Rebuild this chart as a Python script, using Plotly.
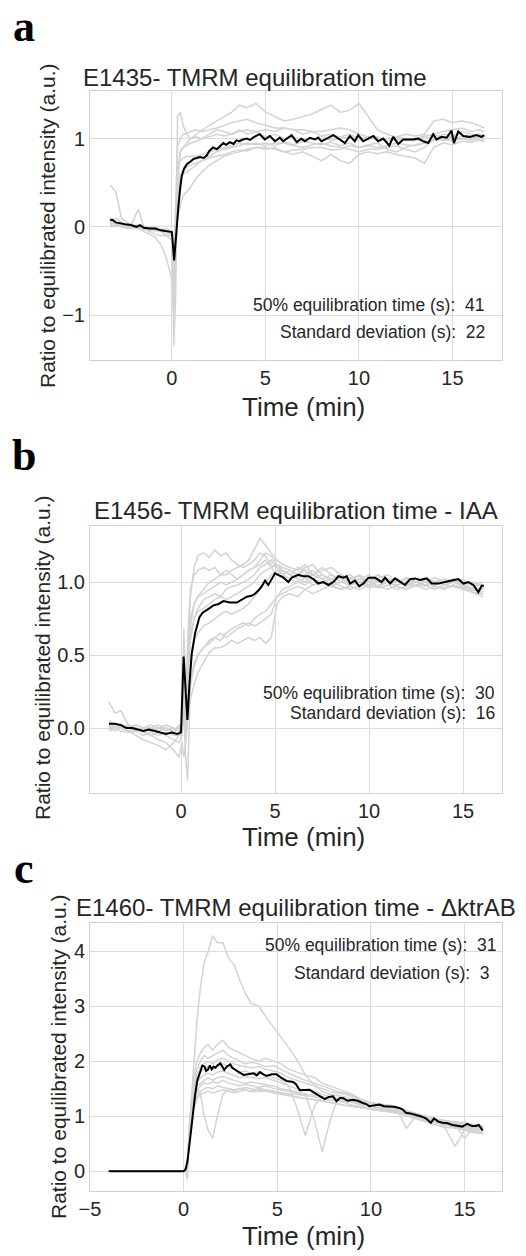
import plotly.graph_objects as go

W, H = 526, 1256
FONT = "Liberation Sans, Arial, sans-serif"
SERIF = "Liberation Serif, Times New Roman, serif"
TXT = "#262626"
GRAY = "#d3d3d3"


def px(x):
    return x / W


def py(y):
    return 1 - y / H


# ---------------- Panel a : E1435 ----------------
ta_grid = [-3.3, -3.0, -2.7, -2.4, -2.1, -1.8, -1.5, -1.2, -0.9, -0.6, -0.3,
           0.0, 0.1, 0.2, 0.3, 0.45, 0.6, 0.8, 1.0,
           1.3, 1.6, 2.0, 2.4, 2.8, 3.2, 3.6, 4.0, 4.5,
           5.0, 5.5, 6.0, 6.5, 7.0, 7.5, 8.0, 8.5, 9.0, 9.5, 10.0, 10.5, 11.0,
           11.5, 12.0, 12.5, 13.0, 13.5, 14.0, 14.5, 15.0, 15.5, 16.0, 16.4, 16.7]

a_cells = [
    [0.47, 0.4, 0.1, 0.05, 0.02, 0.0, -0.02, -0.05, -0.08, -0.1, -0.1,
     -0.1, -0.5, -0.2, 0.5, 0.85, 0.9, 0.95, 1.0,
     1.05, 1.1, 1.15, 1.2, 1.25, 1.3, 1.38, 1.35, 1.4,
     1.3, 1.25, 1.2, 1.22, 1.25, 1.28, 1.33, 1.38, 1.3, 1.32, 1.4, 1.25, 1.1,
     1.05, 1.02, 1.05, 1.03, 1.05, 1.2, 1.22, 1.18, 1.2, 1.18, 1.15, 1.12],
    [0.1, 0.05, 0.03, 0.0, 0.02, 0.0, -0.02, 0.0, -0.03, -0.05, -0.05,
     -0.08, -1.35, -0.8, 1.25, 1.3, 1.15, 1.05, 1.0,
     1.02, 1.0, 1.05, 1.1, 1.08, 1.05, 1.1, 1.05, 1.08,
     1.02, 1.05, 1.0, 1.02, 0.98, 1.0, 1.03, 0.98, 1.0, 1.02, 0.98, 1.0, 1.02,
     0.97, 1.0, 0.98, 1.0, 1.02, 1.05, 1.0, 1.03, 1.0, 1.02, 1.05, 1.03],
    [0.05, 0.03, 0.02, 0.0, 0.0, -0.02, 0.0, -0.03, -0.02, -0.04, -0.05,
     -0.05, -0.7, -0.3, 0.1, 0.25, 0.35, 0.4, 0.45,
     0.55, 0.62, 0.7, 0.75, 0.8, 0.83, 0.85, 0.88, 0.9,
     0.88, 0.9, 0.85, 0.82, 0.85, 0.8, 0.75, 0.82, 0.75, 0.72, 0.82, 0.85, 0.83,
     0.85, 0.82, 0.8, 0.78, 0.72, 0.9, 0.95, 0.93, 0.97, 0.96, 0.98, 0.97],
    [0.1, 0.05, 0.0, 0.02, 0.0, -0.02, -0.05, -0.08, -0.12, -0.2, -0.35,
     -0.6, -1.0, -0.5, 0.3, 0.55, 0.6, 0.62, 0.65,
     0.7, 0.75, 0.8, 0.85, 0.88, 0.9, 0.92, 0.95, 0.93,
     0.95, 0.92, 0.96, 0.93, 0.97, 0.95, 0.93, 0.96, 0.92, 0.95, 0.9, 0.93, 0.95,
     0.88, 0.85, 0.9, 0.93, 0.95, 0.98, 1.0, 0.97, 1.0, 0.98, 1.0, 0.98],
    [0.0, 0.1, 0.05, 0.0, 0.05, 0.2, 0.0, -0.05, -0.02, -0.05, -0.1,
     -0.15, -0.8, 0.0, 0.6, 0.85, 0.9, 0.92, 0.95,
     0.97, 1.0, 1.02, 1.05, 1.03, 1.05, 1.08, 1.1, 1.08,
     1.1, 1.08, 1.12, 1.1, 1.05, 1.08, 1.03, 1.05, 1.02, 1.05, 1.0, 1.02, 0.98,
     1.0, 1.02, 1.0, 0.98, 1.0, 1.02, 1.05, 1.03, 1.08, 1.05, 1.03, 1.02],
    [0.02, 0.0, 0.03, 0.0, -0.02, 0.0, -0.03, -0.02, -0.05, -0.03, -0.05,
     -0.08, -0.6, 0.2, 0.7, 0.75, 0.78, 0.8, 0.8,
     0.8, 0.82, 0.85, 0.88, 0.9, 0.92, 0.95, 0.93, 0.95,
     0.92, 0.95, 0.95, 0.92, 0.9, 0.93, 0.95, 0.92, 0.9, 0.88, 0.85, 0.88, 0.88,
     0.9, 0.92, 0.88, 0.85, 0.9, 1.0, 0.98, 1.0, 1.02, 1.02, 1.0, 1.0],
    [0.0, 0.02, 0.0, -0.02, 0.0, 0.02, 0.0, -0.02, 0.0, -0.03, -0.02,
     -0.05, -0.4, 0.4, 0.9, 1.0, 1.05, 1.06, 1.08,
     1.1, 1.08, 1.1, 1.12, 1.15, 1.18, 1.2, 1.22, 1.18,
     1.15, 1.12, 1.12, 1.1, 1.1, 1.08, 1.08, 1.1, 1.12, 1.1, 1.05, 1.02, 1.0,
     0.98, 0.98, 1.0, 1.0, 1.03, 1.05, 1.08, 1.1, 1.12, 1.08, 1.1, 1.08],
    [0.05, 0.03, 0.0, 0.02, 0.0, -0.02, 0.0, -0.05, -0.03, -0.05, -0.08,
     -0.1, -0.9, -0.2, 0.4, 0.6, 0.65, 0.68, 0.7,
     0.72, 0.75, 0.78, 0.8, 0.82, 0.85, 0.87, 0.86, 0.9,
     0.9, 0.88, 0.85, 0.87, 0.88, 0.9, 0.9, 0.87, 0.88, 0.92, 0.9, 0.92, 0.9,
     0.92, 0.95, 0.93, 0.92, 0.95, 0.98, 1.0, 1.02, 1.0, 1.0, 1.02, 1.0],
]

ta_mean = [-3.3, -3.2, -3.0, -2.8, -2.5, -2.2, -1.9, -1.7, -1.5, -1.2,
           -0.9, -0.6, -0.3, 0.0, 0.12, 0.25, 0.35, 0.45, 0.53, 0.65,
           0.8, 1.0, 1.15, 1.33, 1.5, 1.7, 1.87, 2.0, 2.2, 2.4,
           2.6, 2.75, 2.9, 3.1, 3.3, 3.45, 3.6, 3.8, 4.0, 4.17,
           4.4, 4.7, 4.97, 5.24, 5.51, 5.77, 5.95, 6.13, 6.4, 6.67,
           6.93, 7.11, 7.38, 7.65, 7.82, 8.0, 8.27, 8.63, 8.98, 9.25,
           9.52, 9.78, 9.96, 10.23, 10.5, 10.77, 11.03, 11.3, 11.62, 11.83,
           12.1, 12.37, 12.64, 12.9, 13.17, 13.44, 13.71, 13.97, 14.15, 14.42,
           14.69, 14.95, 15.08, 15.31, 15.58, 15.93, 16.29, 16.56, 16.7]
va_mean = [0.07, 0.08, 0.05, 0.04, 0.03, 0.02, 0.0, 0.02, -0.01, -0.02,
           -0.02, -0.04, -0.05, -0.06, -0.38, 0.0, 0.24, 0.45, 0.58, 0.66,
           0.71, 0.74, 0.77, 0.78, 0.79, 0.78, 0.81, 0.86, 0.9, 0.88,
           0.92, 0.95, 0.93, 0.96, 0.94, 0.98, 0.97, 0.99, 1.0, 0.985,
           1.02, 1.05, 0.99, 1.03, 0.97, 1.01, 0.97, 1.0, 1.04, 0.96,
           1.0, 0.97, 1.01, 0.99, 1.01, 0.97, 1.0, 1.04, 0.99, 0.95,
           1.03, 0.97, 1.04, 0.97, 1.0, 1.03, 0.97, 1.0, 0.92, 1.02,
           0.94, 0.99, 0.99, 0.99, 1.0, 0.97, 0.95, 1.05, 0.99, 1.02,
           1.01, 1.09, 0.95, 1.08, 1.03, 1.02, 1.04, 1.02, 1.04]

# ---------------- Panel b : E1456 IAA ----------------
tb_grid = [-3.84, -3.5, -3.2, -2.8, -2.4, -2.0, -1.6, -1.2, -0.8, -0.4, -0.1,
           0.05, 0.15, 0.25, 0.35, 0.5, 0.7, 0.9,
           1.2, 1.5, 1.8, 2.1, 2.4, 2.7, 3.0, 3.3, 3.6, 3.9, 4.2, 4.5, 4.8, 5.1, 5.4, 5.8,
           6.2, 6.6, 7.0, 7.5, 8.0, 8.5, 9.0, 9.5, 10.0, 10.5, 11.0, 11.5, 12.0,
           12.5, 13.0, 13.5, 14.0, 14.5, 15.0, 15.5, 16.07]

b_cells = [
    [0.02, 0.03, 0.0, 0.02, 0.0, -0.02, 0.0, 0.02, 0.0, -0.02, 0.0,
     0.0, 0.3, 0.1, 0.5, 0.9, 1.1, 1.18,
     1.2, 1.17, 1.22, 1.18, 1.2, 1.15, 1.12, 1.1, 1.12, 1.15, 1.2, 1.18, 1.12, 1.1, 1.08, 1.05,
     1.1, 1.08, 1.05, 1.1, 1.05, 1.02, 1.0, 0.98, 1.02, 1.0, 1.0, 0.98, 1.0,
     1.02, 1.0, 0.98, 1.0, 1.02, 0.98, 1.0, 0.97],
    [0.18, 0.1, 0.12, 0.02, 0.0, -0.02, -0.05, -0.08, -0.1, -0.15, -0.2,
     -0.1, -0.2, -0.1, 0.05, 0.2, 0.3, 0.38,
     0.45, 0.52, 0.55, 0.55, 0.57, 0.6, 0.58, 0.6, 0.62, 0.6, 0.62, 0.58, 0.62, 0.85, 0.9, 0.92,
     0.9, 0.95, 0.92, 0.95, 0.98, 0.95, 0.97, 0.95, 0.98, 0.96, 0.98, 0.95, 0.97,
     0.98, 0.95, 0.97, 0.96, 0.98, 0.95, 0.93, 0.92],
    [0.0, 0.02, 0.0, -0.02, 0.0, -0.03, -0.05, -0.03, -0.05, -0.08, -0.1,
     -0.05, 0.1, -0.2, -0.36, 0.3, 0.45, 0.5,
     0.55, 0.58, 0.62, 0.6, 0.65, 0.68, 0.7, 0.72, 0.7, 0.75, 0.78, 0.8, 0.85, 0.9, 0.95, 0.97,
     1.0, 0.98, 1.02, 1.0, 0.97, 1.0, 0.98, 1.02, 1.0, 0.97, 1.0, 1.02, 0.98,
     1.0, 0.97, 1.0, 0.98, 1.0, 0.97, 0.95, 0.93],
    [0.0, -0.02, 0.0, 0.02, 0.0, -0.02, 0.0, -0.02, 0.0, -0.03, 0.0,
     0.0, 0.68, 0.2, 0.3, 0.6, 0.75, 0.82,
     0.88, 0.9, 0.92, 0.9, 0.95, 0.97, 0.98, 1.0, 1.02, 1.05, 1.1, 1.12, 1.15, 1.1, 1.05, 1.08,
     1.05, 1.08, 1.02, 1.05, 1.0, 1.03, 1.05, 1.0, 1.02, 1.05, 1.0, 1.02, 0.98,
     1.0, 1.02, 1.0, 0.98, 1.0, 1.02, 0.97, 0.98],
    [0.02, 0.0, 0.03, 0.0, 0.02, 0.0, -0.02, 0.0, 0.02, 0.0, -0.02,
     0.05, 0.4, 0.05, 0.4, 0.7, 0.85, 0.9,
     0.95, 1.0, 1.02, 1.05, 1.05, 1.08, 1.1, 1.12, 1.15, 1.22, 1.3, 1.25, 1.2, 1.15, 1.12, 1.1,
     1.08, 1.12, 1.05, 1.08, 1.1, 1.05, 1.02, 1.05, 1.0, 1.03, 1.05, 1.0, 1.02,
     1.0, 1.03, 1.0, 1.02, 1.0, 0.98, 1.0, 0.98],
    [-0.02, 0.0, -0.02, -0.03, -0.02, -0.05, -0.03, -0.05, -0.03, -0.05, -0.05,
     -0.05, 0.3, 0.0, 0.2, 0.45, 0.6, 0.65,
     0.7, 0.72, 0.75, 0.78, 0.8, 0.78, 0.8, 0.82, 0.85, 0.9, 0.95, 1.0, 1.05, 1.08, 1.05, 1.02,
     1.0, 1.03, 0.98, 1.0, 1.02, 0.97, 0.95, 0.98, 1.0, 0.97, 0.95, 0.98, 1.0,
     0.97, 0.98, 0.95, 0.98, 0.97, 0.95, 0.93, 0.9],
    [0.0, 0.02, 0.0, 0.0, -0.02, 0.0, 0.02, 0.0, -0.02, 0.0, -0.02,
     0.02, 0.5, 0.1, 0.45, 0.75, 0.85, 0.9,
     0.92, 0.95, 0.97, 1.0, 0.98, 1.0, 1.02, 1.05, 1.08, 1.1, 1.12, 1.15, 1.1, 1.05, 1.08, 1.05,
     1.02, 1.0, 1.05, 1.02, 0.98, 1.0, 1.03, 1.0, 0.98, 1.0, 1.02, 1.0, 1.03,
     1.0, 0.98, 1.0, 1.02, 1.0, 0.98, 0.96, 0.95],
    [0.0, 0.0, 0.02, 0.0, -0.02, 0.0, 0.0, -0.02, 0.0, -0.02, 0.02,
     0.0, 0.45, 0.0, 0.6, 0.95, 1.05, 1.08,
     1.1, 1.08, 1.1, 1.05, 1.08, 1.05, 1.02, 1.05, 1.08, 1.1, 1.15, 1.2, 1.18, 1.12, 1.1, 1.08,
     1.05, 1.1, 1.12, 1.05, 1.02, 1.05, 1.0, 1.02, 1.05, 1.0, 1.02, 1.0, 0.98,
     1.02, 1.0, 1.03, 1.0, 1.02, 1.0, 0.98, 1.0],
    [0.05, 0.02, 0.0, -0.02, -0.05, -0.08, -0.1, -0.12, -0.15, -0.1, -0.05,
     -0.02, 0.2, 0.05, 0.15, 0.3, 0.42, 0.5,
     0.55, 0.6, 0.62, 0.65, 0.62, 0.65, 0.68, 0.7, 0.72, 0.7, 0.72, 0.75, 0.78, 0.9, 0.92, 0.95,
     0.97, 0.95, 0.98, 1.0, 0.97, 0.95, 0.98, 1.0, 0.96, 0.98, 1.0, 0.97, 0.95,
     0.98, 1.0, 0.97, 0.95, 0.98, 0.96, 0.94, 0.95],
    [0.02, 0.0, 0.02, 0.0, 0.02, 0.0, -0.02, 0.0, 0.0, -0.02, 0.0,
     0.02, 0.35, -0.05, 0.35, 0.65, 0.75, 0.8,
     0.82, 0.85, 0.88, 0.9, 0.88, 0.9, 0.92, 0.95, 0.97, 1.0, 1.05, 1.08, 1.1, 1.12, 1.08, 1.05,
     1.03, 1.05, 1.08, 1.02, 1.05, 1.0, 1.02, 1.04, 1.0, 1.02, 1.0, 0.98, 1.0,
     1.02, 1.0, 0.98, 1.0, 1.0, 0.98, 0.95, 0.96],
]

tb_mean = [-3.83, -3.5, -3.2, -2.9, -2.6, -2.3, -2.0, -1.7, -1.4, -1.1,
           -0.8, -0.5, -0.2, 0.0, 0.14, 0.25, 0.34, 0.45, 0.57, 0.75,
           0.98, 1.15, 1.28, 1.5, 1.72, 2.0, 2.26, 2.6, 2.97, 3.2,
           3.5, 3.75, 3.93, 4.1, 4.29, 4.47, 4.64, 5.0, 5.26, 5.45,
           5.71, 5.89, 6.24, 6.5, 6.77, 7.04, 7.3, 7.57, 7.84, 8.1,
           8.37, 8.63, 8.81, 8.99, 9.25, 9.48, 9.7, 9.96, 10.32, 10.67,
           10.85, 11.12, 11.38, 11.65, 11.91, 12.18, 12.45, 12.71, 13.07, 13.33,
           13.69, 14.04, 14.4, 14.75, 15.02, 15.28, 15.55, 15.81, 15.99, 16.1]
vb_mean = [0.03, 0.03, 0.02, 0.0, 0.0, -0.01, -0.02, -0.01, -0.02, -0.03,
           -0.04, -0.03, -0.04, -0.03, 0.49, 0.25, 0.055, 0.3, 0.51, 0.65,
           0.76, 0.79, 0.8, 0.82, 0.84, 0.85, 0.87, 0.86, 0.86, 0.88,
           0.9, 0.906, 0.92, 0.94, 0.97, 1.01, 0.98, 1.06, 1.04, 1.03,
           1.0, 1.03, 1.05, 1.04, 1.04, 1.02, 0.99, 1.0, 0.98, 1.0,
           1.04, 1.03, 1.04, 0.99, 1.01, 0.97, 0.99, 1.03, 1.03, 1.0,
           1.03, 0.99, 1.025, 1.0, 0.98, 1.02, 1.025, 1.015, 1.025, 0.99,
           0.99, 1.0, 1.01, 1.02, 0.99, 1.0, 0.98, 0.93, 0.975, 0.975]

# ---------------- Panel c : E1460 ΔktrAB ----------------
tc_grid = [-4.0, -3.0, -2.0, -1.0, 0.0, 0.1, 0.2,
           0.35, 0.5, 0.7, 0.9, 1.1, 1.3, 1.55, 1.8, 2.1, 2.4, 2.7, 3.0, 3.3, 3.6,
           4.0, 4.4, 4.8, 5.2, 5.6, 6.0, 6.5, 7.0, 7.4, 7.8, 8.2, 8.6, 9.0, 9.5,
           10.0, 10.5, 11.0, 11.5, 11.9, 12.4, 12.9, 13.4, 13.9, 14.5, 15.0, 15.5, 16.0]

c_cells = [
    [0, 0, 0, 0, 0, 0.05, 0.2,
     1.0, 1.8, 2.7, 3.35, 3.8, 3.98, 4.28, 4.15, 4.15, 3.87, 3.75, 3.47, 3.23, 3.05,
     3.0, 2.8, 2.62, 2.45, 2.25, 2.05, 1.75, 1.55, 1.45, 1.4, 1.38, 1.35, 1.3, 1.25,
     1.2, 1.15, 1.15, 1.12, 1.08, 1.02, 0.98, 0.92, 0.9, 0.85, 0.8, 0.78, 0.75],
    [0, 0, 0, 0, 0, 0.02, 0.1,
     0.8, 1.3, 1.5, 1.4, 1.0, 0.75, 0.6, 1.0, 1.4, 1.5, 1.45, 1.5, 1.48, 1.45,
     1.45, 1.47, 1.45, 1.42, 1.4, 1.4, 1.38, 1.35, 1.33, 1.3, 1.28, 1.28, 1.25, 1.22,
     1.2, 1.15, 1.1, 1.05, 1.02, 1.0, 0.97, 0.92, 0.88, 0.82, 0.75, 0.72, 0.7],
    [0, 0, 0, 0, 0, 0.05, 0.15,
     1.0, 1.6, 2.0, 2.15, 2.25, 2.3, 2.2, 2.3, 2.38, 2.25, 2.2, 2.15, 2.1, 2.05,
     2.0, 2.05, 2.0, 1.95, 1.85, 1.8, 1.75, 1.7, 1.6, 1.55, 1.5, 1.45, 1.4, 1.3,
     1.25, 1.2, 1.18, 1.15, 1.1, 1.05, 1.0, 0.95, 0.92, 0.88, 0.85, 0.82, 0.8],
    [0, 0, 0, 0, 0, 0.03, 0.12,
     0.9, 1.4, 1.7, 1.8, 1.85, 1.9, 1.85, 1.9, 1.95, 1.9, 1.85, 1.8, 1.82, 1.78,
     1.8, 1.75, 1.7, 1.65, 1.55, 1.2, 0.65, 1.2, 1.35, 1.3, 1.32, 1.3, 1.28, 1.22,
     1.2, 1.15, 1.12, 1.1, 1.05, 1.0, 0.95, 0.9, 0.88, 0.82, 0.8, 0.78, 0.75],
    [0, 0, 0, 0, 0, 0.02, -0.15,
     0.9, 1.3, 1.55, 1.6, 1.65, 1.7, 1.65, 1.7, 1.72, 1.68, 1.65, 1.62, 1.6, 1.62,
     1.6, 1.58, 1.55, 1.5, 1.48, 1.45, 1.4, 0.9, 0.35, 0.9, 1.3, 1.35, 1.3, 1.25,
     1.2, 1.18, 1.15, 1.12, 1.08, 1.02, 0.98, 0.92, 0.9, 0.85, 0.82, 0.8, 0.78],
    [0, 0, 0, 0, 0, 0.02, 0.08,
     0.7, 1.1, 1.3, 1.4, 1.42, 1.45, 1.42, 1.45, 1.48, 1.45, 1.42, 1.45, 1.48, 1.45,
     1.5, 1.48, 1.45, 1.42, 1.4, 1.35, 1.32, 1.3, 1.28, 1.25, 1.22, 1.2, 1.18, 1.15,
     1.12, 1.1, 1.08, 1.05, 0.78, 1.0, 0.95, 0.9, 0.82, 0.45, 0.75, 0.72, 0.7],
    [0, 0, 0, 0, 0, 0.03, 0.1,
     0.8, 1.2, 1.45, 1.55, 1.6, 1.58, 1.62, 1.6, 1.65, 1.6, 1.58, 1.55, 1.58, 1.55,
     1.52, 1.55, 1.5, 1.48, 1.45, 1.42, 1.4, 1.38, 1.35, 1.3, 1.28, 1.25, 1.2, 1.18,
     1.15, 1.12, 1.1, 1.08, 1.02, 0.98, 0.92, 0.88, 0.85, 0.8, 0.78, 0.75, 0.72],
    [0, 0, 0, 0, 0, 0.04, 0.15,
     1.0, 1.5, 1.85, 2.0, 2.1, 2.05, 2.1, 2.15, 2.2, 2.1, 2.05, 2.0, 1.95, 1.98,
     1.95, 1.9, 1.92, 1.85, 1.78, 1.72, 1.65, 1.6, 1.55, 1.5, 1.45, 1.42, 1.38, 1.3,
     1.25, 1.22, 1.2, 1.15, 1.1, 1.05, 1.0, 0.95, 0.9, 0.88, 0.85, 0.82, 0.8],
    [0, 0, 0, 0, 0, 0.02, 0.1,
     0.75, 1.15, 1.35, 1.45, 1.5, 1.52, 1.5, 1.55, 1.52, 1.5, 1.48, 1.5, 1.52, 1.5,
     1.48, 1.45, 1.42, 1.4, 1.38, 1.35, 1.32, 1.3, 1.28, 1.25, 1.22, 1.2, 1.18, 1.15,
     1.12, 1.1, 1.08, 1.05, 1.0, 0.95, 0.9, 0.85, 0.8, 0.78, 0.75, 0.7, 0.68],
    [0, 0, 0, 0, 0, 0.03, 0.12,
     0.85, 1.35, 1.6, 1.7, 1.75, 1.78, 1.75, 1.8, 1.82, 1.78, 1.75, 1.7, 1.72, 1.7,
     1.68, 1.7, 1.65, 1.6, 1.55, 1.5, 1.48, 1.45, 1.4, 1.35, 1.32, 1.3, 1.25, 1.2,
     1.18, 1.15, 1.12, 1.1, 1.05, 1.0, 0.95, 0.92, 0.88, 0.85, 0.6, 0.8, 0.78],
    [0, 0, 0, 0, 0, 0.04, 0.14,
     0.95, 1.45, 1.75, 1.9, 1.95, 2.0, 1.95, 2.02, 2.05, 2.0, 1.95, 1.92, 1.9, 1.88,
     1.9, 1.85, 1.82, 1.78, 1.7, 1.65, 1.6, 1.55, 1.5, 1.45, 1.42, 1.4, 1.35, 1.28,
     1.22, 1.2, 1.18, 1.12, 1.08, 1.05, 1.0, 0.95, 0.92, 0.9, 0.88, 0.85, 0.82],
]

tc_mean = [-4.0, -3.0, -2.0, -1.0, 0.0, 0.1, 0.2, 0.35, 0.46, 0.6,
           0.73, 0.9, 1.0, 1.12, 1.2, 1.29, 1.4, 1.5, 1.6, 1.7,
           1.8, 1.96, 2.08, 2.17, 2.3, 2.49, 2.6, 2.76, 2.95, 3.2,
           3.45, 3.73, 3.9, 4.08, 4.25, 4.43, 4.7, 4.96, 5.2, 5.5,
           5.85, 6.0, 6.2, 6.5, 6.73, 6.9, 7.1, 7.3, 7.54, 7.75,
           7.98, 8.16, 8.35, 8.5, 8.75, 9.04, 9.3, 9.57, 9.75, 9.92,
           10.2, 10.45, 10.7, 10.98, 11.25, 11.51, 11.7, 11.87, 12.1, 12.4,
           12.65, 12.93, 13.2, 13.37, 13.6, 13.82, 14.1, 14.35, 14.6, 14.88,
           15.14, 15.4, 15.6, 15.76, 15.97]
vc_mean = [0.0, 0.0, 0.0, 0.0, 0.0, 0.03, 0.17, 0.6, 0.99, 1.35,
           1.65, 1.84, 1.92, 1.9, 1.82, 1.84, 1.92, 1.85, 1.9, 1.88,
           1.92, 1.96, 1.9, 1.84, 1.9, 1.94, 1.88, 1.84, 1.8, 1.75,
           1.76, 1.78, 1.74, 1.8, 1.76, 1.73, 1.76, 1.76, 1.7, 1.64,
           1.62, 1.58, 1.47, 1.48, 1.48, 1.44, 1.4, 1.37, 1.31, 1.35,
           1.36, 1.27, 1.33, 1.33, 1.28, 1.3, 1.28, 1.24, 1.22, 1.18,
           1.2, 1.21, 1.18, 1.18, 1.17, 1.15, 1.12, 1.06, 1.05, 1.02,
           1.0, 0.96, 0.88, 0.96, 0.9, 0.88, 0.87, 0.84, 0.83, 0.81,
           0.86, 0.82, 0.82, 0.84, 0.74]

titles = ["E1435- TMRM equilibration time",
          "E1456- TMRM equilibration time - IAA",
          "E1460- TMRM equilibration time - \u0394ktrAB"]
stat_labels = ["50% equilibration time (s):", "Standard deviation (s):"]
stat_values = [["41", "22"], ["30", "16"], ["31", "3"]]
panel_letters = ["a", "b", "c"]

fig = go.Figure()


def add_panel(tgrid, cells, tmean, vmean, xa, ya):
    for i, tr in enumerate(cells):
        if len(tr) != len(tgrid):
            raise ValueError(f"{xa} trace {i}: {len(tr)} vs {len(tgrid)}")
        fig.add_trace(go.Scatter(x=tgrid, y=tr, mode="lines",
                                 line=dict(color=GRAY, width=1.5),
                                 xaxis=xa, yaxis=ya, showlegend=False,
                                 hoverinfo="skip"))
    if len(tmean) != len(vmean):
        raise ValueError(f"{xa} mean: {len(tmean)} vs {len(vmean)}")
    fig.add_trace(go.Scatter(x=tmean, y=vmean, mode="lines",
                             line=dict(color="black", width=2),
                             xaxis=xa, yaxis=ya, showlegend=False))


add_panel(ta_grid, a_cells, ta_mean, va_mean, "x", "y")
add_panel(tb_grid, b_cells, tb_mean, vb_mean, "x2", "y2")
add_panel(tc_grid, c_cells, tc_mean, vc_mean, "x3", "y3")

ax = dict(showgrid=True, gridcolor="#dcdcdc", gridwidth=1,
          showline=True, linecolor="#d2d2d2", linewidth=1, mirror=True,
          zeroline=False, ticks="", automargin=False,
          tickfont=dict(family=FONT, size=20, color=TXT), fixedrange=True)

xdom = [px(90), px(502)]
fig.update_layout(
    width=W, height=H, autosize=False,
    margin=dict(l=0, r=0, t=0, b=0, pad=0, autoexpand=False),
    paper_bgcolor="white", plot_bgcolor="white",
    xaxis=dict(ax, domain=xdom, anchor="y", range=[-4.38, 17.65],
               tickvals=[0, 5, 10, 15], ticktext=["0", "5", "10", "15"]),
    yaxis=dict(ax, domain=[py(360), py(91)], anchor="x", range=[-1.51, 1.54],
               tickvals=[-1, 0, 1], ticktext=["\u22121", "0", "1"]),
    xaxis2=dict(ax, domain=xdom, anchor="y2", range=[-4.84, 17.07],
                tickvals=[0, 5, 10, 15], ticktext=["0", "5", "10", "15"]),
    yaxis2=dict(ax, domain=[py(793), py(526)], anchor="x2", range=[-0.445, 1.384],
                tickvals=[0, 0.5, 1.0], ticktext=["0.0", "0.5", "1.0"]),
    xaxis3=dict(ax, domain=xdom, anchor="y3", range=[-5.0, 17.0],
                tickvals=[-5, 0, 5, 10, 15], ticktext=["\u22125", "0", "5", "10", "15"]),
    yaxis3=dict(ax, domain=[py(1191), py(923)], anchor="x3", range=[-0.36, 4.51],
                tickvals=[0, 1, 2, 3, 4], ticktext=["0", "1", "2", "3", "4"]),
)

ann = []


def text(x, y, s, size, xanchor="center", angle=0, family=FONT, color=TXT):
    ann.append(dict(x=px(x), y=py(y), xref="paper", yref="paper", text=s,
                    showarrow=False, xanchor=xanchor, yanchor="middle",
                    textangle=angle, font=dict(family=family, size=size, color=color)))


# panel letters
for letter, (lx, ly) in zip(panel_letters, [(24, 26), (24, 456), (24, 868)]):
    text(lx, ly, "<b>" + letter + "</b>", 44, family=SERIF, color="black")

# titles
text(81, 77, titles[0], 24, xanchor="left")
text(296, 510, titles[1], 24)
text(296, 908, titles[2], 24)

# y axis titles
ytitle = "Ratio to equilibrated intensity (a.u.)"
text(47, 226, ytitle, 21, angle=-90)
text(42, 658, ytitle, 21, angle=-90)
text(58, 1057, ytitle, 21, angle=-90)

# x axis titles
text(303, 407, "Time (min)", 26)
text(303, 837, "Time (min)", 26)
text(304, 1236, "Time (min)", 26)

# stats
stat_pos = [[(487, 305), (487, 332)], [(497, 693), (497, 713)], [(499, 945), (492, 973)]]
for vals, pos in zip(stat_values, stat_pos):
    for lab, v, (sx, sy) in zip(stat_labels, vals, pos):
        text(sx, sy, lab + " \u00a0" + v, 17.5, xanchor="right")

fig.update_layout(annotations=ann)
# remove the default page margin so the figure fills the window exactly
fig.write_html("out.html",
               config={"displayModeBar": False, "staticPlot": True},
               post_script="document.body.style.margin='0';"
                           "document.documentElement.style.overflow='hidden';")
